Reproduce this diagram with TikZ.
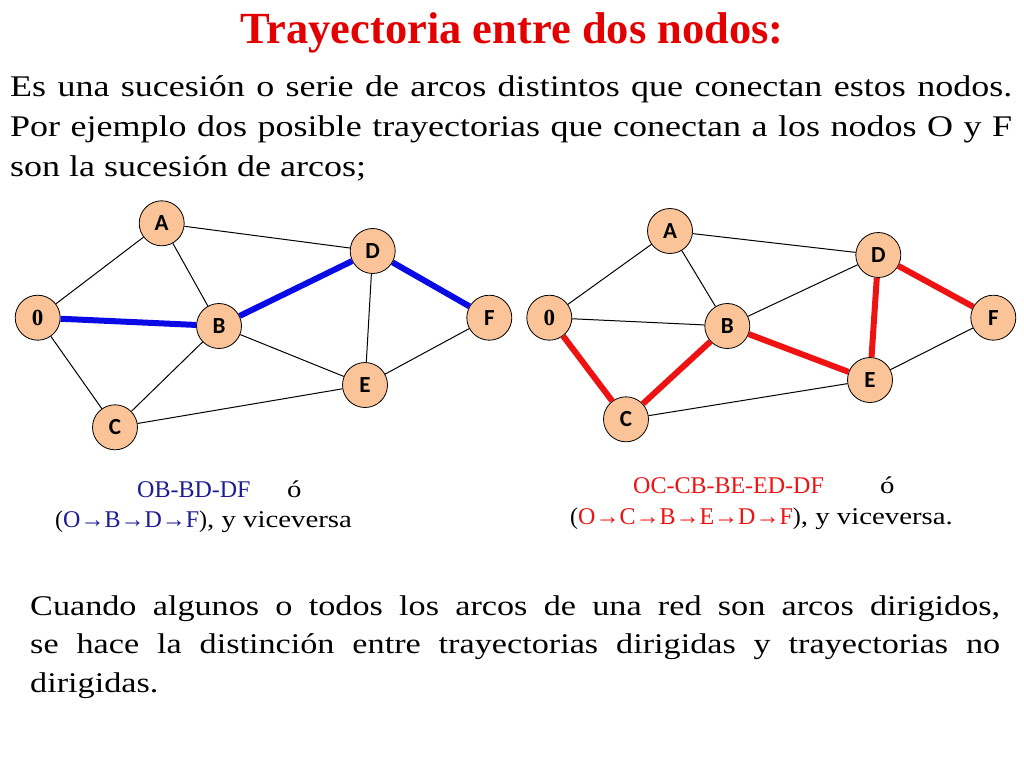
\documentclass[tikz,border=0pt]{standalone}
\usepackage{fontspec}
\setmainfont{Liberation Serif}
\newfontfamily\bodyfont[FakeStretch=1.2]{Liberation Serif}
\newfontfamily\nodefont{Carlito}
\definecolor{peach}{RGB}{250,196,152}
\definecolor{pathblue}{RGB}{10,10,230}
\definecolor{pathred}{RGB}{238,18,18}
\definecolor{titlered}{RGB}{226,0,0}
\definecolor{navy}{RGB}{28,28,150}
\tikzset{
  nd/.style={circle,draw=black,line width=0.8pt,fill=peach,minimum size=45pt,inner sep=0pt,font=\nodefont\bfseries\fontsize{23}{23}\selectfont},
  edge/.style={line width=1pt,black},
  bluepath/.style={line width=6pt,pathblue},
  redpath/.style={line width=6pt,pathred},
  body/.style={anchor=base west,inner sep=0pt,font=\bodyfont\fontsize{30}{36}\selectfont},
  lbl/.style={anchor=base west,inner sep=0pt,font=\fontsize{24}{28}\selectfont},
}
\begin{document}
\begin{tikzpicture}[x=1pt,y=-1pt]
\useasboundingbox[fill=white] (0,0) rectangle (1024,768);
% title
\node[anchor=base,inner sep=0pt,text=titlered,font=\bfseries\fontsize{44.5}{50}\selectfont] (title) at (512,44) {Trayectoria entre dos nodos:};
% body text
\node[body] (l1) at (10,96) {\makebox[1002pt][s]{Es una sucesión o serie de arcos distintos que conectan estos nodos.}};
\node[body] (l2) at (10,136) {\makebox[1002pt][s]{Por ejemplo dos posible trayectorias que conectan a los nodos O y F}};
\node[body] (l3) at (10,176) {son la sucesión de arcos;};
% left graph
\node[nd] (A) at (161.7,223.3) {A};
\node[nd] (D) at (372.7,251) {D};
\node[nd] (O) at (37.7,317.7) {\rmfamily 0};
\node[nd] (B) at (219,326) {B};
\node[nd] (F) at (489.3,317.7) {F};
\node[nd] (E) at (365,385) {E};
\node[nd] (C) at (115,427.3) {C};
\draw[edge] (O) -- (A);
\draw[edge] (O) -- (C);
\draw[edge] (A) -- (B);
\draw[edge] (A) -- (D);
\draw[edge] (B) -- (C);
\draw[edge] (B) -- (E);
\draw[edge] (D) -- (E);
\draw[edge] (E) -- (F);
\draw[edge] (C) -- (E);
\draw[bluepath] (O) -- (B);
\draw[bluepath] (B) -- (D);
\draw[bluepath] (D) -- (F);
% right graph
\node[nd] (A2) at (670,231) {A};
\node[nd] (D2) at (878.3,255) {D};
\node[nd] (O2) at (549.3,317.7) {\rmfamily 0};
\node[nd] (B2) at (727.3,326) {B};
\node[nd] (F2) at (993.3,317.7) {F};
\node[nd] (E2) at (870,380) {E};
\node[nd] (C2) at (626,419.3) {C};
\draw[edge] (O2) -- (A2);
\draw[edge] (O2) -- (B2);
\draw[edge] (A2) -- (B2);
\draw[edge] (A2) -- (D2);
\draw[edge] (B2) -- (D2);
\draw[edge] (E2) -- (F2);
\draw[edge] (C2) -- (E2);
\draw[redpath] (O2) -- (C2);
\draw[redpath] (C2) -- (B2);
\draw[redpath] (B2) -- (E2);
\draw[redpath] (E2) -- (D2);
\draw[redpath] (D2) -- (F2);
% labels left
\node[lbl,text=navy] (p1) at (137,497) {OB-BD-DF};
\node[lbl] (o1) at (287,497) {\bodyfont ó};
\node[lbl] (q1) at (55,527) {(\textcolor{navy}{O→B→D→F})\bodyfont, y viceversa};
% labels right
\node[lbl,text=pathred] (p2) at (633,493) {OC-CB-BE-ED-DF};
\node[lbl] (o2) at (880,493) {\bodyfont ó};
\node[lbl] (q2) at (570,524) {(\textcolor{pathred}{O→C→B→E→D→F})\bodyfont, y viceversa.};
% bottom paragraph
\node[body,font=\bodyfont\fontsize{28.5}{34}\selectfont] (b1) at (30,615) {\makebox[970pt][s]{Cuando algunos o todos los arcos de una red son arcos dirigidos,}};
\node[body,font=\bodyfont\fontsize{28.5}{34}\selectfont] (b2) at (30,653.5) {\makebox[970pt][s]{se hace la distinción entre trayectorias dirigidas y trayectorias no}};
\node[body,font=\bodyfont\fontsize{28.5}{34}\selectfont] (b3) at (30,692) {dirigidas.};
\end{tikzpicture}
\end{document}
